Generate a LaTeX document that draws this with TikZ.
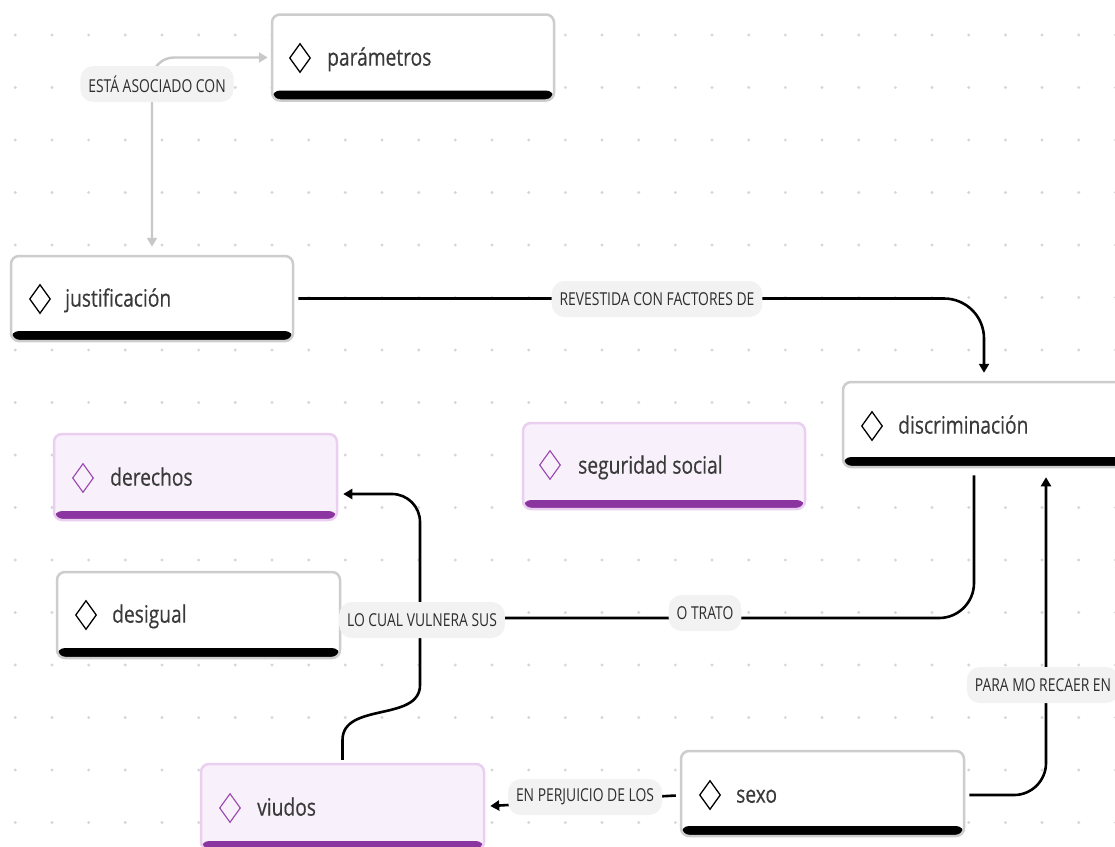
\documentclass[tikz,border=0pt]{standalone}
\usepackage{fontspec}
\setmainfont[FakeStretch=0.78]{Open Sans}
\newfontfamily\nodefont[FakeStretch=0.8,FakeBold=0.45]{Open Sans}
\usetikzlibrary{arrows.meta,calc,shapes.geometric}
\definecolor{dotc}{HTML}{D6D6D6}
\definecolor{boxborder}{HTML}{CDCDCD}
\definecolor{pfill}{HTML}{F8F0FA}
\definecolor{pborder}{HTML}{EBCFF1}
\definecolor{pbar}{HTML}{8B35A0}
\definecolor{pdia}{HTML}{9945B0}
\definecolor{ntext}{HTML}{3A3A3A}
\definecolor{lblfill}{HTML}{F2F2F2}
\definecolor{lbltext}{HTML}{2E2E2E}
\definecolor{gline}{HTML}{C8C8C8}
\begin{document}
\begin{tikzpicture}[x=1pt,y=-1pt,
  cbox/.style={draw=boxborder, line width=2.5pt, fill=white, rounded corners=8pt,
    minimum width=282pt, minimum height=86pt, inner sep=0pt,
    path picture={\fill[black] (path picture bounding box.south west) rectangle ([yshift=10pt]path picture bounding box.south east);}},
  pbox/.style={draw=pborder, line width=2.5pt, fill=pfill, rounded corners=8pt,
    minimum width=282pt, minimum height=86pt, inner sep=0pt,
    path picture={\fill[pbar] (path picture bounding box.south west) rectangle ([yshift=9pt]path picture bounding box.south east);}},
  dia/.style={draw=black, shape=diamond, line width=1.3pt, minimum width=21pt, minimum height=29pt, inner sep=0pt},
  pdiam/.style={dia, draw=pdia, line width=1.1pt},
  ntxt/.style={anchor=mid west, inner sep=0pt, text=ntext, font=\nodefont\fontsize{24}{28}\selectfont},
  lbl/.style={fill=lblfill, rounded corners=13pt, inner xsep=8pt, minimum height=36pt, text=lbltext, font=\fontsize{17.8}{20}\selectfont},
  bedge/.style={draw=black, line width=2.6pt},
  gedge/.style={draw=gline, line width=2.4pt}
]
\useasboundingbox (0,0) rectangle (1115,846);
\fill[white] (0,0) rectangle (1115,846);
\foreach \i in {0,...,30} {\foreach \j in {0,...,15} {\fill[dotc] (15.3+36.67*\i, 35+52.5*\j) circle (1.6pt);}}

% nodes
\node[cbox] (param) at (413,57.5) {};
\node[dia] (paramd) at (300,58) {};
\node[ntxt] (paramt) at (327,63) {parámetros};

\node[cbox, minimum height=85pt] (jus) at (152,298.5) {};
\node[dia] (jusd) at (40,299) {};
\node[ntxt] (just) at (65,304) {justificación};

\node[cbox, minimum height=85pt] (disc) at (984,424.5) {};
\node[dia] (discd) at (872,426) {};
\node[ntxt] (disct) at (898,431) {discriminación};

\node[pbox] (seg) at (664,466) {};
\node[pdiam] (segd) at (550,465) {};
\node[ntxt] (segt) at (578,471) {seguridad social};

\node[pbox, minimum width=283pt] (der) at (195.5,477) {};
\node[pdiam] (derd) at (83,478) {};
\node[ntxt] (dert) at (110,483) {derechos};

\node[cbox, minimum width=283pt] (desig) at (198.5,615) {};
\node[dia] (desigd) at (86,615) {};
\node[ntxt] (desigt) at (112,620) {desigual};

\node[pbox, minimum width=283pt] (viu) at (342.5,807) {};
\node[pdiam] (viud) at (230,808) {};
\node[ntxt] (viut) at (257,813) {viudos};

\node[cbox, minimum width=283pt, minimum height=85pt] (sexo) at (822.5,793.5) {};
\node[dia] (sexod) at (710,795) {};
\node[ntxt] (sexot) at (736,800) {sexo};

% edges
\draw[gedge, {Triangle[length=9pt,width=10pt]}-{Triangle[length=9pt,width=10pt]}, rounded corners=22pt]
  ([yshift=8pt]jus.north) |- ([xshift=-3pt]param.west);
\draw[bedge, -{Triangle[length=9pt,width=10pt]}, rounded corners=40pt]
  ([xshift=4pt]jus.east) -| ([yshift=8pt]disc.north);
\draw[bedge, rounded corners=35pt]
  ([xshift=-10pt,yshift=-7pt]disc.south) |- ([xshift=3pt,yshift=-3pt]desig.east);
\draw[bedge, -{Triangle[length=9pt,width=10pt]}, rounded corners=32pt]
  ([xshift=4pt,yshift=-1.5pt]sexo.east) -| ([xshift=62pt,yshift=-9pt]disc.south);
\draw[bedge, -{Triangle[length=9pt,width=10pt]}]
  ([xshift=-4pt,yshift=-2pt]sexo.west) -- ([xshift=5pt,yshift=1pt]viu.east);
\draw[bedge, -{Triangle[length=9pt,width=10pt]}]
  ([yshift=3pt]viu.north) -- (342.5,740) .. controls (342.5,702) and (420,722) .. (420,685)
  [rounded corners=28pt] |- ([xshift=5pt,yshift=-17pt]der.east);

% labels
\node[lbl] (l1) at (157,84) {ESTÁ ASOCIADO CON};
\node[lbl] (l2) at (657,299) {REVESTIDA CON FACTORES DE};
\node[lbl] (l3) at (705,613) {O TRATO};
\node[lbl] (l4) at (422,620) {LO CUAL VULNERA SUS};
\node[lbl] (l5) at (1043,685) {PARA MO RECAER EN};
\node[lbl] (l6) at (585,797) {EN PERJUICIO DE LOS};
\end{tikzpicture}
\end{document}
